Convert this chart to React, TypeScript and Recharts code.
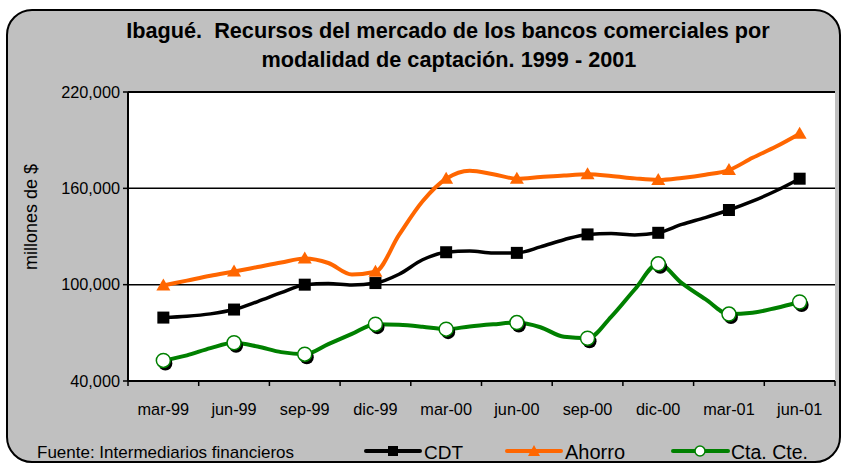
import React from "react";
import { LineChart, Line, XAxis, YAxis, CartesianGrid, ReferenceLine } from "recharts";

// monthly values, mar-99 .. jun-01 (28 months)
const monthIdx = Array.from({ length: 28 }, (_, i) => i);

const cdt = [
  79500, 80300, 81800, 84500, 89500, 95000, 100000, 100800, 99800, 101000,
  106500, 115500, 120200, 121000, 119700, 119800, 123500, 128000, 131300,
  131800, 131000, 132300, 137500, 141800, 146500, 152000, 158500, 166000,
];

const ahorro = [
  99500, 102500, 105500, 108200, 111000, 113800, 116300, 113500, 106300,
  108000, 131000, 152000, 166000, 171000, 168800, 166000, 167000, 168000,
  168700, 167700, 166200, 165200, 166500, 168500, 171400, 179000, 186000,
  194000,
];

const ctaCte = [
  52800, 56000, 60500, 63800, 61500, 58000, 56700, 63000, 69300, 75400,
  75000, 73800, 72300, 74000, 75300, 76400, 73500, 67500, 66600, 80000,
  97000, 113000, 101000, 91000, 81700, 82500, 85500, 89200,
];

const quarterLabels = [
  "mar-99", "jun-99", "sep-99", "dic-99", "mar-00",
  "jun-00", "sep-00", "dic-00", "mar-01", "jun-01",
];

const yTicks = [40000, 100000, 160000, 220000];
const bandEdges = Array.from({ length: 11 }, (_, k) => -1.5 + 3 * k);

const data = monthIdx.map((i) => ({
  i,
  cdt: cdt[i],
  ahorro: ahorro[i],
  cta: ctaCte[i],
}));

const ORANGE = "#FF6600";
const GREEN = "#008000";
const FONT = "Arial, 'Liberation Sans', sans-serif";

const XTick = (props: any) => {
  const { x, y, index } = props;
  const label = quarterLabels[index];
  if (!label) return <g />;
  return (
    <text x={x + 35.35} y={y} dy="0.71em" textAnchor="middle" fontSize={16.3} fontFamily={FONT} fill="#000">
      {label}
    </text>
  );
};

const squareDot = (p: any) =>
  p.index % 3 === 0 ? (
    <rect key={`s${p.index}`} x={p.cx - 6} y={p.cy - 6} width={12} height={12} fill="#000" />
  ) : (
    <g key={`s${p.index}`} />
  );

const triangleDot = (p: any) =>
  p.index % 3 === 0 ? (
    <polygon
      key={`t${p.index}`}
      points={`${p.cx},${p.cy - 7} ${p.cx + 7},${p.cy + 5} ${p.cx - 7},${p.cy + 5}`}
      fill={ORANGE}
    />
  ) : (
    <g key={`t${p.index}`} />
  );

const circleDot = (p: any) =>
  p.index % 3 === 0 ? (
    <g key={`c${p.index}`}>
      <circle cx={p.cx + 2} cy={p.cy + 3} r={7} fill="#000" />
      <circle cx={p.cx} cy={p.cy} r={7} fill="#fff" stroke={GREEN} strokeWidth={1.5} />
    </g>
  ) : (
    <g key={`c${p.index}`} />
  );

export default function App() {
  return (
    <div style={{ position: "absolute", left: 0, top: 0, width: 844, height: 464, background: "#fff" }}>
      <div
        style={{
          position: "absolute",
          left: 6,
          top: 9,
          width: 831,
          height: 450,
          background: "#C0C0C0",
          border: "2px solid #000",
          borderRadius: 26,
        }}
      />
      <div style={{ position: "absolute", left: 0, top: 0 }}>
        <LineChart width={844} height={464} data={data} margin={{ top: 92, right: 9, bottom: 30, left: 0 }}>
          <CartesianGrid vertical={false} fill="#fff" stroke="#000" strokeWidth={1.5} horizontalValues={yTicks} />
          <XAxis
            dataKey="i"
            type="number"
            domain={[-1.5, 28.5]}
            ticks={bandEdges}
            interval={0}
            height={53}
            tickSize={5}
            tickMargin={17}
            tick={<XTick />}
            axisLine={{ stroke: "#000", strokeWidth: 2 }}
            tickLine={{ stroke: "#000", strokeWidth: 1.5 }}
          />
          <YAxis
            width={128}
            domain={[40000, 220000]}
            ticks={yTicks}
            interval={0}
            tickSize={5}
            tickMargin={3}
            tickFormatter={(v: number) => v.toLocaleString("en-US")}
            tick={{ fontSize: 16.3, fontFamily: FONT, fill: "#000" }}
            axisLine={{ stroke: "#000", strokeWidth: 2 }}
            tickLine={{ stroke: "#000", strokeWidth: 1.5 }}
          />
          <YAxis
            yAxisId="r"
            orientation="right"
            width={0}
            domain={[40000, 220000]}
            tick={false}
            tickLine={false}
            axisLine={{ stroke: "#000", strokeWidth: 2 }}
          />
          <ReferenceLine y={220000} stroke="#000" strokeWidth={2} />
          <Line
            dataKey="cdt"
            type="monotone"
            stroke="#000"
            strokeWidth={3.5}
            dot={squareDot}
            activeDot={false}
            isAnimationActive={false}
          />
          <Line
            dataKey="ahorro"
            type="monotone"
            stroke={ORANGE}
            strokeWidth={4}
            dot={triangleDot}
            activeDot={false}
            isAnimationActive={false}
          />
          <Line
            dataKey="cta"
            type="monotone"
            stroke={GREEN}
            strokeWidth={4}
            dot={circleDot}
            activeDot={false}
            isAnimationActive={false}
          />
        </LineChart>
      </div>
      <svg width={844} height={464} style={{ position: "absolute", left: 0, top: 0, pointerEvents: "none" }}>
        <g fontFamily={FONT} fontWeight="bold" fontSize={21.7} textAnchor="middle" fill="#000">
          <text x={448} y={38} xmlSpace="preserve">Ibagué.  Recursos del mercado de los bancos comerciales por</text>
          <text x={449} y={67}>modalidad de captación. 1999 - 2001</text>
        </g>
        <text
          x={37}
          y={217}
          transform="rotate(-90 37 217)"
          textAnchor="middle"
          fontFamily={FONT}
          fontSize={18}
          fill="#000"
        >
          millones de $
        </text>
        <text x={37} y={458} fontFamily={FONT} fontSize={17} fill="#000">
          Fuente: Intermediarios financieros
        </text>
        <g>
          <line x1={366} y1={451} x2={420} y2={451} stroke="#000" strokeWidth={4} strokeLinecap="round" />
          <rect x={388} y={446} width={10} height={10} fill="#000" />
          <text x={424} y={459} fontFamily={FONT} fontSize={19} fill="#000">CDT</text>
        </g>
        <g>
          <line x1={507} y1={451} x2={561} y2={451} stroke={ORANGE} strokeWidth={4} strokeLinecap="round" />
          <polygon points="534,445 540,456 528,456" fill={ORANGE} />
          <text x={565} y={459} fontFamily={FONT} fontSize={20} fill="#000">Ahorro</text>
        </g>
        <g>
          <line x1={673} y1={451} x2={728} y2={451} stroke={GREEN} strokeWidth={4} strokeLinecap="round" />
          <circle cx={700} cy={451} r={5} fill="#fff" stroke={GREEN} strokeWidth={1.5} />
          <text x={731} y={459} fontFamily={FONT} fontSize={19.5} fill="#000">Cta. Cte.</text>
        </g>
      </svg>
    </div>
  );
}
